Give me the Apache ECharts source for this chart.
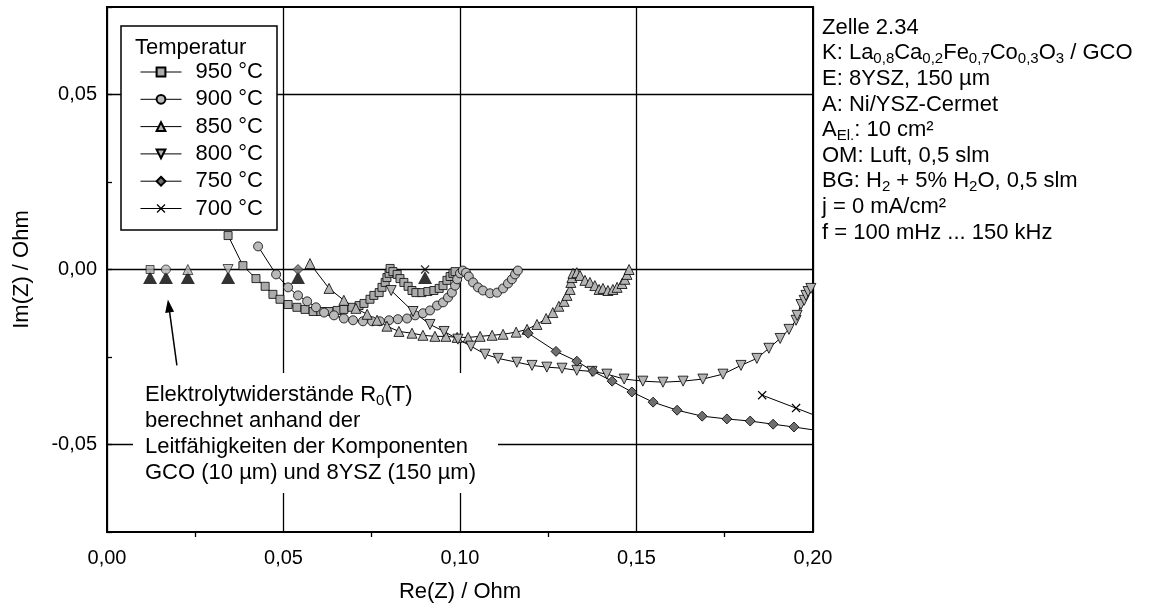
<!DOCTYPE html>
<html>
<head>
<meta charset="utf-8">
<title>Impedanzspektren Zelle 2.34</title>
<script src="https://cdn.jsdelivr.net/npm/echarts@6/dist/echarts.min.js"></script>
<style>
  html, body { margin: 0; padding: 0; background: #fff; }
  #chart { width: 1151px; height: 608px; }
</style>
</head>
<body>
<div id="chart"></div>
<script>
// ---- Messdaten: Re(Z) / Im(Z) in Ohm je Temperatur ----
const temperatures = ['950 °C', '900 °C', '850 °C', '800 °C', '750 °C', '700 °C'];

const re950 = [0.0343, 0.0385, 0.0422, 0.0448, 0.0470, 0.0490, 0.0513, 0.0538, 0.0561, 0.0584, 0.0606, 0.0629, 0.0652, 0.0671, 0.0694, 0.0714, 0.0728, 0.0745, 0.0756, 0.0771, 0.0779, 0.0788, 0.0793, 0.0799, 0.0802, 0.0810, 0.0822, 0.0830, 0.0841, 0.0853, 0.0864, 0.0875, 0.0892, 0.0909, 0.0926, 0.0941, 0.0952, 0.0963, 0.0972, 0.0980, 0.0986];
const im950 = [0.0097, 0.0011, -0.0026, -0.0048, -0.0071, -0.0085, -0.0100, -0.0108, -0.0114, -0.0120, -0.0120, -0.0120, -0.0117, -0.0114, -0.0108, -0.0103, -0.0097, -0.0085, -0.0074, -0.0066, -0.0051, -0.0037, -0.0023, -0.0011, 0.0003, -0.0006, -0.0014, -0.0026, -0.0037, -0.0048, -0.0060, -0.0066, -0.0066, -0.0063, -0.0060, -0.0054, -0.0046, -0.0031, -0.0020, -0.0011, -0.0006];

const re900 = [0.0428, 0.0479, 0.0513, 0.0541, 0.0567, 0.0592, 0.0615, 0.0643, 0.0671, 0.0697, 0.0725, 0.0751, 0.0773, 0.0799, 0.0824, 0.0850, 0.0873, 0.0895, 0.0915, 0.0935, 0.0952, 0.0966, 0.0977, 0.0986, 0.0992, 0.1000, 0.1008, 0.1017, 0.1025, 0.1037, 0.1051, 0.1065, 0.1085, 0.1105, 0.1122, 0.1136, 0.1147, 0.1156, 0.1164];
const im900 = [0.0066, -0.0014, -0.0051, -0.0074, -0.0091, -0.0108, -0.0123, -0.0131, -0.0140, -0.0145, -0.0148, -0.0148, -0.0148, -0.0145, -0.0142, -0.0140, -0.0131, -0.0125, -0.0117, -0.0103, -0.0094, -0.0080, -0.0066, -0.0046, -0.0028, -0.0011, -0.0003, -0.0009, -0.0020, -0.0037, -0.0051, -0.0060, -0.0068, -0.0066, -0.0054, -0.0040, -0.0028, -0.0014, -0.0003];

const re850 = [0.0575, 0.0629, 0.0671, 0.0705, 0.0737, 0.0765, 0.0793, 0.0827, 0.0864, 0.0895, 0.0929, 0.0960, 0.0992, 0.1023, 0.1057, 0.1091, 0.1122, 0.1159, 0.1190, 0.1218, 0.1244, 0.1263, 0.1280, 0.1295, 0.1303, 0.1312, 0.1314, 0.1317, 0.1320, 0.1331, 0.1340, 0.1354, 0.1368, 0.1382, 0.1394, 0.1405, 0.1419, 0.1433, 0.1445, 0.1459, 0.1467, 0.1473, 0.1479];
const im850 = [0.0017, -0.0054, -0.0088, -0.0111, -0.0128, -0.0145, -0.0162, -0.0177, -0.0182, -0.0188, -0.0191, -0.0191, -0.0194, -0.0194, -0.0191, -0.0188, -0.0185, -0.0179, -0.0171, -0.0157, -0.0140, -0.0123, -0.0105, -0.0091, -0.0074, -0.0057, -0.0037, -0.0023, -0.0011, -0.0009, -0.0017, -0.0031, -0.0037, -0.0046, -0.0057, -0.0054, -0.0060, -0.0057, -0.0051, -0.0040, -0.0028, -0.0014, 0.0000];

const re800 = [0.0805, 0.0867, 0.0915, 0.0955, 0.0994, 0.1031, 0.1071, 0.1108, 0.1161, 0.1204, 0.1246, 0.1289, 0.1331, 0.1374, 0.1416, 0.1465, 0.1518, 0.1575, 0.1632, 0.1688, 0.1745, 0.1796, 0.1841, 0.1875, 0.1907, 0.1932, 0.1952, 0.1955, 0.1966, 0.1975, 0.1980, 0.1986, 0.1994];
const im800 = [-0.0060, -0.0120, -0.0157, -0.0177, -0.0199, -0.0219, -0.0242, -0.0254, -0.0265, -0.0274, -0.0279, -0.0282, -0.0288, -0.0291, -0.0299, -0.0313, -0.0319, -0.0322, -0.0319, -0.0313, -0.0299, -0.0274, -0.0254, -0.0225, -0.0197, -0.0171, -0.0145, -0.0131, -0.0100, -0.0088, -0.0074, -0.0063, -0.0054];

const re750 = [0.1193, 0.1272, 0.1331, 0.1377, 0.1431, 0.1487, 0.1547, 0.1615, 0.1686, 0.1756, 0.1822, 0.1887, 0.1946, 0.2012];
const im750 = [-0.0182, -0.0234, -0.0262, -0.0291, -0.0319, -0.0350, -0.0379, -0.0402, -0.0419, -0.0427, -0.0433, -0.0442, -0.0450, -0.0460];

const re700 = [0.1856, 0.1952, 0.2048];
const im700 = [-0.0359, -0.0396, -0.0433];

// berechnete Elektrolytwiderstände R0(T), gleiche Reihenfolge wie temperatures
const r0Values = [0.0122, 0.0167, 0.0229, 0.0343, 0.0541, 0.0901];

// Achsen
const reTickValues = [0, 0.05, 0.10, 0.15, 0.20];
const imGridValues = [0.05, 0, -0.05];

// ---- Darstellung ----
const FONT = 'Liberation Sans, Arial, sans-serif';
const crossPath = 'path://M0,1L1,0L5,4L9,0L10,1L6,5L10,9L9,10L5,6L1,10L0,9L4,5Z';
const markerStyles = [
  { symbol: 'rect',     size: 8,  rotate: 0,   fill: '#ababab', border: 0.8 },
  { symbol: 'circle',   size: 9,  rotate: 0,   fill: '#b9b9b9', border: 0.8 },
  { symbol: 'triangle', size: 10, rotate: 0,   fill: '#b4b4b4', border: 0.8 },
  { symbol: 'triangle', size: 10, rotate: 180, fill: '#b4b4b4', border: 0.8 },
  { symbol: 'diamond',  size: 10, rotate: 0,   fill: '#6e6e6e', border: 0.8 },
  { symbol: crossPath,  size: 9,  rotate: 0,   fill: '#000000', border: 0 }
];
const reSets = [re950, re900, re850, re800, re750, re700];
const imSets = [im950, im900, im850, im800, im750, im700];

function pairs(xs, ys) { return xs.map((x, i) => [x, ys[i]]); }
function fmt(v) {
  if (Math.abs(v) < 1e-9) v = 0;
  return v.toFixed(2).replace('.', ',');
}

const series = [];

// Gitterlinien in Im-Richtung und Hinweispfeil
series.push({
  name: 'raster', type: 'line', data: [], z: 1, silent: true,
  markLine: {
    silent: true, symbol: 'none', animation: false, z: 1,
    label: { show: false },
    lineStyle: { color: '#000', width: 1.3, type: 'solid' },
    data: imGridValues.map(v => ({ yAxis: v })).concat([
      [
        { coord: [0.0198, -0.0274], symbol: 'none' },
        { coord: [0.0175, -0.0104], symbol: 'triangle', symbolSize: [9, 13], lineStyle: { width: 1.5 } }
      ]
    ])
  }
});

temperatures.forEach((t, k) => {
  const m = markerStyles[k];
  series.push({
    name: t, type: 'line', z: 3,
    data: pairs(reSets[k], imSets[k]),
    symbol: m.symbol, symbolSize: m.size, symbolRotate: m.rotate,
    showSymbol: true, clip: true,
    lineStyle: { color: '#000', width: 1 },
    itemStyle: { color: m.fill, borderColor: '#000', borderWidth: m.border }
  });
});

// R0-Punkte auf der reellen Achse mit Markierung darunter
series.push({
  name: 'R0 Markierung', type: 'scatter', z: 2,
  data: r0Values.map(r => [r, 0]),
  symbol: 'triangle', symbolSize: [14, 13], symbolOffset: [0, 8],
  itemStyle: { color: '#000' }
});
temperatures.forEach((t, k) => {
  const m = markerStyles[k];
  series.push({
    name: 'R0 ' + t, type: 'scatter', z: 4,
    data: [[r0Values[k], 0]],
    symbol: m.symbol, symbolSize: m.size, symbolRotate: m.rotate,
    itemStyle: { color: m.fill, borderColor: '#000', borderWidth: m.border }
  });
});

const infoText = [
  'Zelle 2.34',
  'K: La{s|0,8}Ca{s|0,2}Fe{s|0,7}Co{s|0,3}O{s|3} / GCO',
  'E: 8YSZ, 150 µm',
  'A: Ni/YSZ-Cermet',
  'A{s|El.}: 10 cm²',
  'OM: Luft, 0,5 slm',
  'BG: H{s|2} + 5% H{s|2}O, 0,5 slm',
  'j = 0 mA/cm²',
  'f = 100 mHz ... 150 kHz'
].join('\n');

const noteText = [
  'Elektrolytwiderstände R{s|0}(T)',
  'berechnet anhand der',
  'Leitfähigkeiten der Komponenten',
  'GCO (10 µm) und 8YSZ (150 µm)'
].join('\n');

const chart = echarts.init(document.getElementById('chart'), null, { renderer: 'canvas' });
chart.setOption({
  animation: false,
  backgroundColor: '#fff',
  textStyle: { fontFamily: FONT, color: '#000' },
  grid: {
    left: 107, right: 338, top: 7, bottom: 73,
    show: true, borderColor: '#000', borderWidth: 2, backgroundColor: 'transparent'
  },
  xAxis: {
    type: 'value', min: 0, max: 0.2, interval: 0.05,
    name: 'Re(Z) / Ohm', nameLocation: 'middle', nameGap: 49,
    nameTextStyle: { fontSize: 22, color: '#000', fontFamily: FONT },
    axisLine: { show: true, onZero: false, lineStyle: { color: '#000', width: 2 } },
    axisTick: { show: false },
    minorTick: { show: true, splitNumber: 2, length: 5, lineStyle: { color: '#000', width: 1.3 } },
    axisLabel: {
      fontSize: 20, color: '#000', fontFamily: FONT, margin: 16,
      formatter: v => reTickValues.some(t => Math.abs(t - v) < 1e-9) ? fmt(v) : ''
    },
    splitLine: { show: true, lineStyle: { color: '#000', width: 1.3 } }
  },
  yAxis: {
    type: 'value', min: -0.075, max: 0.075, interval: 0.025,
    name: 'Im(Z) / Ohm', nameLocation: 'middle', nameGap: 74,
    nameTextStyle: { fontSize: 22, color: '#000', fontFamily: FONT },
    axisLine: { show: true, onZero: false, lineStyle: { color: '#000', width: 2 } },
    axisTick: { show: true, inside: true, length: 5, lineStyle: { color: '#000', width: 1.3 } },
    axisLabel: {
      fontSize: 20, color: '#000', fontFamily: FONT, margin: 10,
      formatter: v => imGridValues.some(t => Math.abs(t - v) < 1e-9) ? fmt(v) : ''
    },
    splitLine: { show: false }
  },
  legend: {
    data: temperatures,
    orient: 'vertical', left: 140, top: 61, padding: 0,
    itemWidth: 41, itemHeight: 11, itemGap: 5.3,
    selectedMode: false, z: 6,
    lineStyle: { width: 1, color: '#000' },
    textStyle: { fontSize: 22, lineHeight: 22, color: '#000', fontFamily: FONT, padding: [0, 0, 0, 9] }
  },
  graphic: [
    { type: 'rect', z: 5, shape: { x: 121, y: 26, width: 156, height: 204 },
      style: { fill: '#fff', stroke: '#000', lineWidth: 1.5 } },
    { type: 'text', z: 6, x: 135, y: 48,
      style: { text: 'Temperatur', font: '22px ' + FONT, fill: '#000', verticalAlign: 'middle' } },
    { type: 'rect', z: 5, shape: { x: 133, y: 373, width: 365, height: 120 },
      style: { fill: '#fff' } },
    { type: 'text', z: 6, x: 145, y: 382,
      style: {
        text: noteText, font: '22px ' + FONT, fill: '#000', lineHeight: 26, verticalAlign: 'top',
        rich: { s: { fontSize: 15, fontFamily: FONT, lineHeight: 13, verticalAlign: 'bottom', fill: '#000' } }
      } },
    { type: 'text', z: 6, x: 822, y: 15,
      style: {
        text: infoText, font: '22px ' + FONT, fill: '#000', lineHeight: 25.6, verticalAlign: 'top',
        rich: { s: { fontSize: 15, fontFamily: FONT, lineHeight: 13, verticalAlign: 'bottom', fill: '#000' } }
      } }
  ],
  series: series
});
</script>
</body>
</html>
